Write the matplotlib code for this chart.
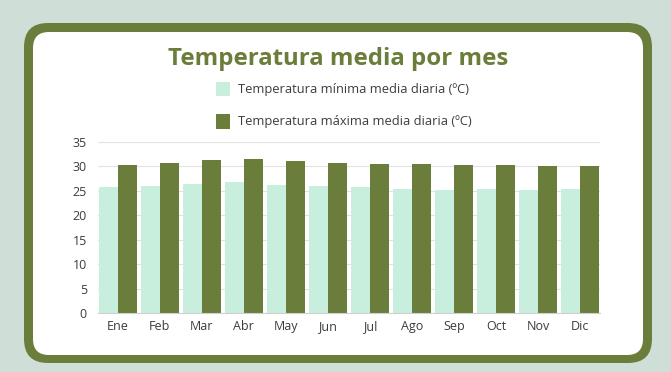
import numpy as np
import matplotlib
matplotlib.use("Agg")
import matplotlib.pyplot as plt
from matplotlib.patches import FancyBboxPatch, Rectangle

## Data
months = ["Ene", "Feb", "Mar", "Abr", "May", "Jun",
          "Jul", "Ago", "Sep", "Oct", "Nov", "Dic"]
temp_min = [25.7, 25.9, 26.4, 26.8, 26.3, 25.9, 25.7, 25.4, 25.2, 25.3, 25.2, 25.3]
temp_max = [30.3, 30.7, 31.3, 31.6, 31.1, 30.6, 30.5, 30.4, 30.2, 30.3, 30.1, 30.1]
label_min = "Temperatura mínima media diaria (ºC)"
label_max = "Temperatura máxima media diaria (ºC)"
title = "Temperatura media por mes"

## Colours
bg = "#cfded6"
green = "#6b7d3a"
mint = "#c8eedd"
txt = "#3c3c3c"

W, H = 671, 372
fig = plt.figure(figsize=(W/100, H/100), dpi=100, facecolor=bg)
plt.rcParams['font.family'] = ['Open Sans', 'DejaVu Sans']

# background frame, drawn in pixel coordinates
frame = fig.add_axes([0, 0, 1, 1])
frame.set_xlim(0, W)
frame.set_ylim(H, 0)
frame.axis("off")
frame.add_patch(FancyBboxPatch((24, 23), 628, 340, boxstyle="round,pad=0,rounding_size=24",
                               fc=green, ec="none"))
frame.add_patch(FancyBboxPatch((33, 32), 610, 323, boxstyle="round,pad=0,rounding_size=16",
                               fc="white", ec="none"))

frame.text(338, 59, title, ha="center", va="center", fontsize=17.3, fontweight="bold", color=green)

# legend by hand
frame.add_patch(Rectangle((216, 82), 14, 14, fc=mint, ec="none"))
frame.add_patch(Rectangle((216, 114), 14, 15, fc=green, ec="none"))
frame.text(238, 89, label_min, ha="left", va="center", fontsize=9.3, color=txt)
frame.text(238, 122, label_max, ha="left", va="center", fontsize=9.3, color=txt)

## Chart
ax = fig.add_axes([98/W, 1 - 313/H, 502/W, 171/H])
x = np.arange(len(months))
bw = 0.45
ax.bar(x - bw/2, temp_min, bw, color=mint, zorder=2)
ax.bar(x + bw/2, temp_max, bw, color=green, zorder=2)
ax.set_xlim(-0.47, 11.47)
ax.set_ylim(0, 35)
ax.set_yticks(range(0, 36, 5))
ax.set_xticks(x)
ax.set_xticklabels(months)
ax.grid(axis="y", color="#e2e2e2", linewidth=0.8, zorder=0)
for s in ["top", "right", "left"]:
    ax.spines[s].set_visible(False)
ax.spines["bottom"].set_color("#cfcfcf")
ax.tick_params(length=0, labelsize=9, labelcolor=txt)
ax.tick_params(axis="y", pad=8)
ax.tick_params(axis="x", pad=5)
ax.set_facecolor("none")

fig.savefig("out.png", dpi=100, facecolor=bg)
